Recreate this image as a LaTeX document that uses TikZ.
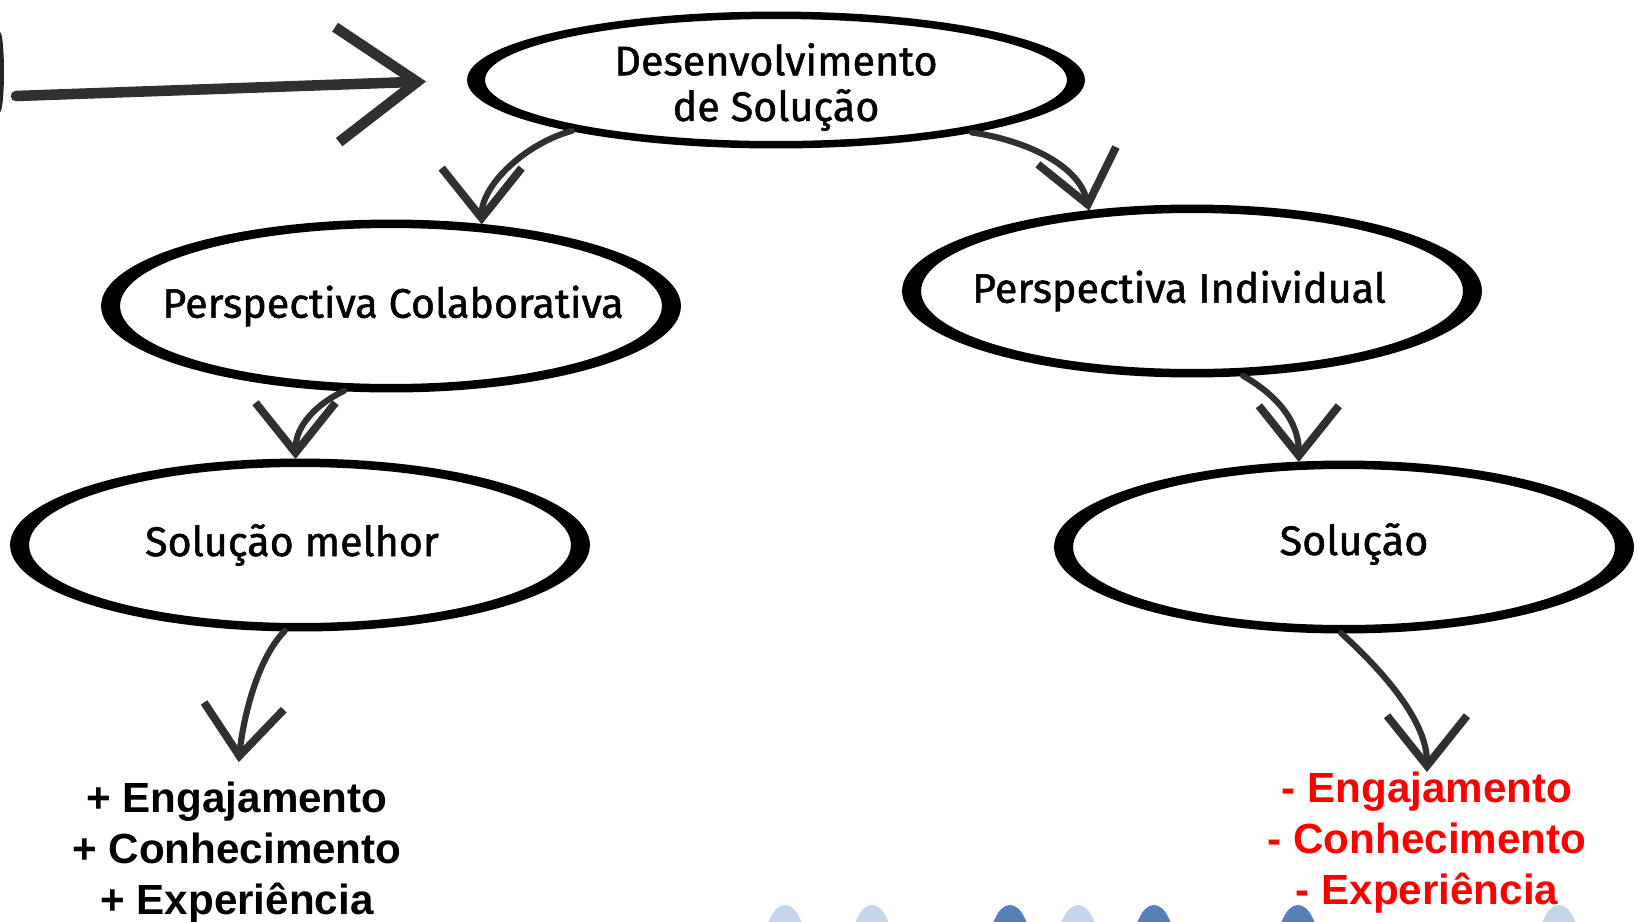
\documentclass[tikz,border=0pt]{standalone}
\usepackage{fontspec}
\setmainfont{Liberation Sans}
\newfontfamily\hand[FakeBold=1.2]{Fira Sans}
\usepackage{tikz}
\usetikzlibrary{shapes}
\usetikzlibrary{arrows.meta}
\usepackage{xcolor}
\definecolor{pencil}{RGB}{48,48,48}
\definecolor{blobl}{RGB}{198,213,233}
\definecolor{blobd}{RGB}{86,128,183}

\tikzset{
  bubble/.style={ellipse, inner sep=0pt, outer sep=0pt},
  handtext/.style={align=center, inner sep=0pt, font=\hand\fontsize{23.5}{26}\selectfont},
  sketch/.style={draw=pencil, line width=3.5pt, line cap=round,
    -{Straight Barb[length=1cm,width=1.6cm,line width=4.5pt]}},
  tally/.style={align=center, inner sep=0pt, font=\bfseries\fontsize{24}{29}\selectfont}
}

\begin{document}
\begin{tikzpicture}[x=0.02cm,y=-0.02cm]
\clip (0,0) rectangle (1637,921);
\fill[white] (0,0) rectangle (1637,921);

% blobs at the bottom edge
\foreach \x/\c in {785/blobl, 872/blobl, 1010/blobd, 1078/blobl, 1154/blobd, 1298/blobd, 1559/blobl}
  \fill[\c] (\x,950) ellipse[x radius=0.42cm, y radius=0.9cm];

% bubbles
\node[bubble, minimum width=12.32cm, minimum height=2.72cm,
  label={[handtext,yshift=-0.14cm]center:Desenvolvimento\\de Solução}] (dev) at (776,80) {};
\node[bubble, minimum width=11.56cm, minimum height=3.44cm,
  label={[handtext,xshift=0.04cm]center:Perspectiva Colaborativa}] (colab) at (391,306) {};
\node[bubble, minimum width=11.56cm, minimum height=3.44cm,
  label={[handtext,xshift=-0.26cm]center:Perspectiva Individual}] (indiv) at (1192,291) {};
\node[bubble, minimum width=11.56cm, minimum height=3.44cm,
  label={[handtext,xshift=-0.16cm]center:Solução melhor}] (melhor) at (300,545) {};
\node[bubble, minimum width=11.56cm, minimum height=3.44cm,
  label={[handtext,xshift=0.2cm,yshift=0.06cm]center:Solução}] (sol) at (1344,547) {};

\fill[even odd rule] (dev) ellipse[x radius=6.18cm, y radius=1.37cm]
  (dev) ellipse[x radius=5.82cm, y radius=1.22cm];
\foreach \b in {colab,indiv,melhor,sol}
  \fill[even odd rule] (\b) ellipse[x radius=5.8cm, y radius=1.73cm]
    (\b) ellipse[x radius=5.42cm, y radius=1.56cm];

% results
\node[tally] (mais) at (237,853) {+ Engajamento\\+ Conhecimento\\+ Experiência};
\node[tally, text=red] (menos) at (1427,843) {- Engajamento\\- Conhecimento\\- Experiência};

% arrows
\coordinate (edge) at (16,96);
\fill[black!85] (0,72) ellipse[x radius=0.08cm, y radius=0.8cm];
\draw[sketch, line width=6pt, shorten >=0.84cm,
  -{Straight Barb[length=1.6cm,width=2.3cm,line width=6pt]}] (edge) -- (dev.west);
\draw[sketch] (dev.194) .. controls +(-45,12) and +(0,-40) .. (colab.42);
\draw[sketch] (dev.345) .. controls +(55,8) and +(-10,-45) .. (indiv.142);
\draw[sketch] (colab.241) .. controls +(-25,12) and +(0,-35) .. (melhor.93);
\draw[sketch] (indiv.301) .. controls +(28,16) and +(0,-45) .. (sol.118);
\draw[sketch, shorten >=0.4cm] (melhor.260) .. controls +(-30,30) and +(5,-55) .. (mais.north);
\draw[sketch] (sol.268) .. controls +(33,30) and +(0,-55) .. (menos.north);
\end{tikzpicture}
\end{document}
